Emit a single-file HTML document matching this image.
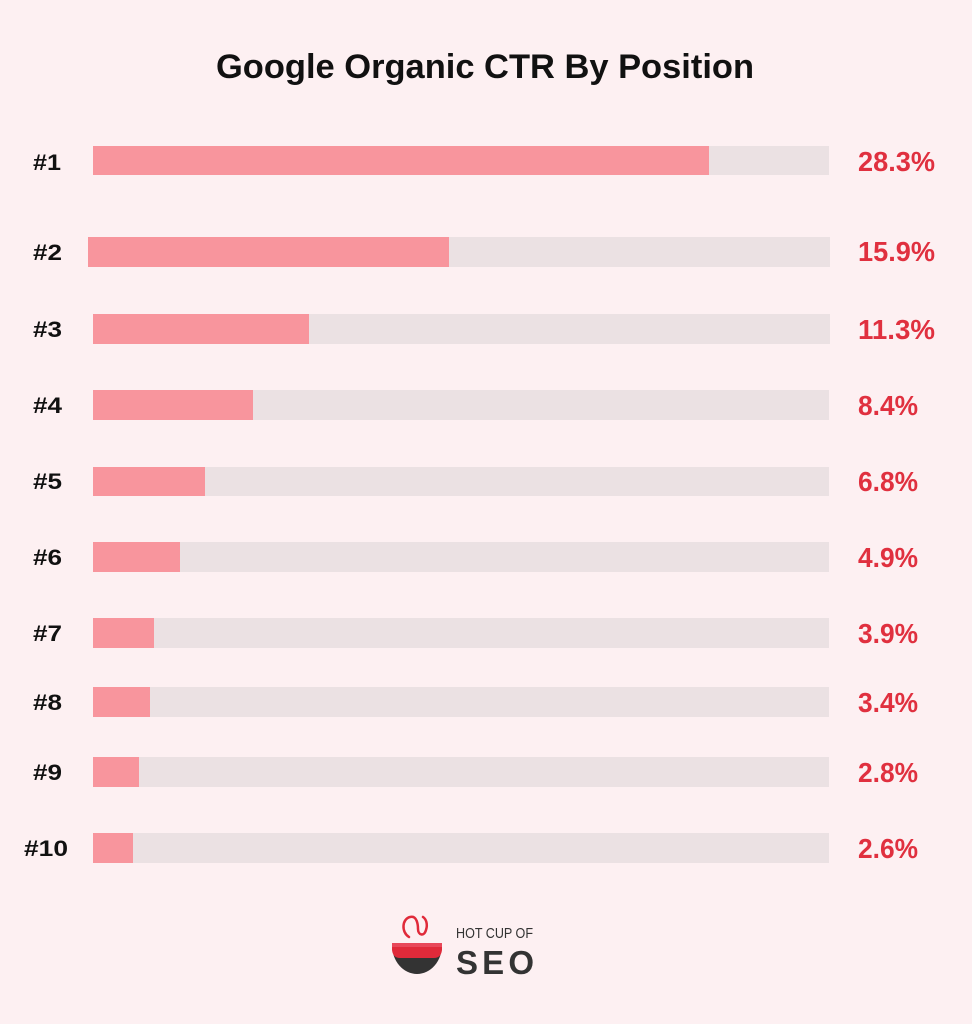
<!DOCTYPE html>
<html><head><meta charset="utf-8"><style>
html,body{margin:0;padding:0;background:#fdf0f2;}
svg{display:block;}
text{font-family:"Liberation Sans",sans-serif;}
</style></head><body>
<svg width="972" height="1024" viewBox="0 0 972 1024" xmlns="http://www.w3.org/2000/svg">
<rect width="972" height="1024" fill="#fdf0f2"/>
<text x="216" y="78" font-size="34" font-weight="bold" fill="#111" textLength="538" lengthAdjust="spacingAndGlyphs">Google Organic CTR By Position</text>

<g fill="#ebe1e3">
<rect x="93" y="146" width="736" height="29"/>
<rect x="88" y="237" width="742" height="30"/>
<rect x="93" y="314" width="737" height="30"/>
<rect x="93" y="390" width="736" height="30"/>
<rect x="93" y="467" width="736" height="29"/>
<rect x="93" y="542" width="736" height="30"/>
<rect x="93" y="618" width="736" height="30"/>
<rect x="93" y="687" width="736" height="30"/>
<rect x="93" y="757" width="736" height="30"/>
<rect x="93" y="833" width="736" height="30"/>
</g>
<g fill="#f8959d">
<rect x="93" y="146" width="616" height="29"/>
<rect x="88" y="237" width="361" height="30"/>
<rect x="93" y="314" width="216" height="30"/>
<rect x="93" y="390" width="160" height="30"/>
<rect x="93" y="467" width="112" height="29"/>
<rect x="93" y="542" width="87" height="30"/>
<rect x="93" y="618" width="61" height="30"/>
<rect x="93" y="687" width="57" height="30"/>
<rect x="93" y="757" width="46" height="30"/>
<rect x="93" y="833" width="40" height="30"/>
</g>

<g font-size="22.5" font-weight="bold" fill="#111">
<text x="33" y="170" textLength="28" lengthAdjust="spacingAndGlyphs">#1</text>
<text x="33" y="260" textLength="29" lengthAdjust="spacingAndGlyphs">#2</text>
<text x="33" y="337" textLength="29" lengthAdjust="spacingAndGlyphs">#3</text>
<text x="33" y="413" textLength="29" lengthAdjust="spacingAndGlyphs">#4</text>
<text x="33" y="489" textLength="29" lengthAdjust="spacingAndGlyphs">#5</text>
<text x="33" y="565" textLength="29" lengthAdjust="spacingAndGlyphs">#6</text>
<text x="33" y="641" textLength="29" lengthAdjust="spacingAndGlyphs">#7</text>
<text x="33" y="710" textLength="29" lengthAdjust="spacingAndGlyphs">#8</text>
<text x="33" y="780" textLength="29" lengthAdjust="spacingAndGlyphs">#9</text>
<text x="24" y="856" textLength="44" lengthAdjust="spacingAndGlyphs">#10</text>
</g>

<g font-size="28" font-weight="bold" fill="#e0303f">
<text x="858" y="171" textLength="77" lengthAdjust="spacingAndGlyphs">28.3%</text>
<text x="858" y="261" textLength="77" lengthAdjust="spacingAndGlyphs">15.9%</text>
<text x="858" y="339" textLength="77" lengthAdjust="spacingAndGlyphs">11.3%</text>
<text x="858" y="415" textLength="60" lengthAdjust="spacingAndGlyphs">8.4%</text>
<text x="858" y="491" textLength="60" lengthAdjust="spacingAndGlyphs">6.8%</text>
<text x="858" y="567" textLength="60" lengthAdjust="spacingAndGlyphs">4.9%</text>
<text x="858" y="643" textLength="60" lengthAdjust="spacingAndGlyphs">3.9%</text>
<text x="858" y="712" textLength="60" lengthAdjust="spacingAndGlyphs">3.4%</text>
<text x="858" y="782" textLength="60" lengthAdjust="spacingAndGlyphs">2.8%</text>
<text x="858" y="858" textLength="60" lengthAdjust="spacingAndGlyphs">2.6%</text>
</g>

<!-- logo -->
<path d="M392,945 L442,945 A25,29 0 0 1 392,945 Z" fill="#333"/>
<path d="M392,943 L442,943 L442,950 Q441,958 434,958 L400,958 Q393,958 392,950 Z" fill="#e02a3a"/>
<path d="M392,943 L442,943 L442,947 L392,947 Z" fill="#e8485a"/>
<path d="M409,937 C401,932 402,919 410,917 C417,915 418,925 418,929 C418,935 424,937 426,930 C428,924 426,919 423,917" fill="none" stroke="#e02a3a" stroke-width="2.5" stroke-linecap="round"/>
<text x="456" y="938" font-size="15" fill="#333" textLength="77" lengthAdjust="spacingAndGlyphs">HOT CUP OF</text>
<text x="456" y="974" font-size="33" font-weight="bold" fill="#333" textLength="78" lengthAdjust="spacing">SEO</text>
</svg>
</body></html>
